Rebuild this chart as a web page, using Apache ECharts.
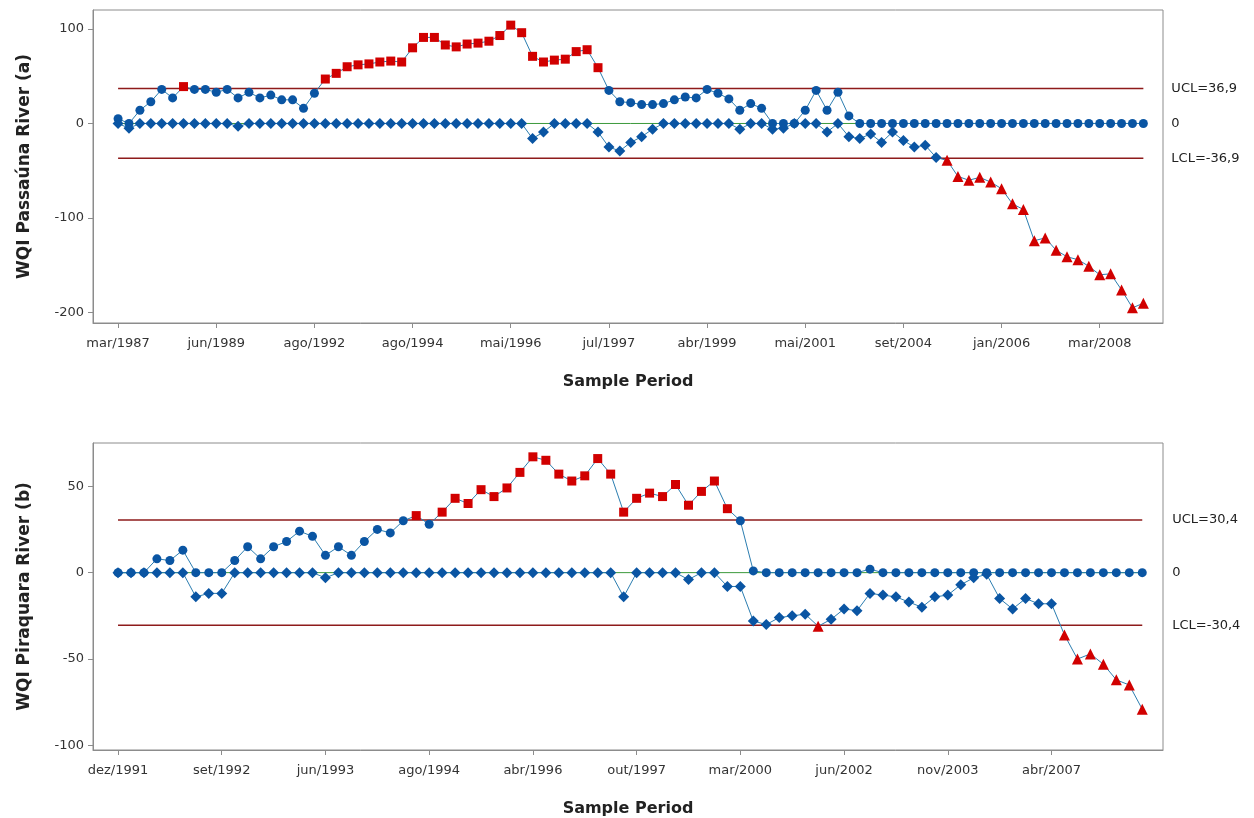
<!DOCTYPE html>
<html>
<head>
<meta charset="utf-8">
<script src="https://cdn.jsdelivr.net/npm/echarts@6/dist/echarts.min.js"></script>
<style>
  html, body { margin: 0; padding: 0; background: #ffffff; }
  #chart { width: 1254px; height: 818px; }
</style>
</head>
<body>
<div id="chart"></div>
<script>
// ---- Passaúna River (a): CUSUM of WQI ----
const ticksA = ['mar/1987', 'jun/1989', 'ago/1992', 'ago/1994', 'mai/1996', 'jul/1997',
                'abr/1999', 'mai/2001', 'set/2004', 'jan/2006', 'mar/2008'];
const stepA = 9;            // samples between labelled dates
const limitA = 36.9;        // UCL / LCL magnitude
const upperA = [5, 0, 14, 23, 36, 27, 39, 36, 36, 33, 36, 27, 33, 27, 30, 25, 25, 16, 32,
                47, 53, 60, 62, 63, 65, 66, 65,
                80, 91, 91, 83, 81, 84, 85, 87, 93, 104, 96, 71, 65, 67, 68, 76, 78, 59, 35,
                23, 22, 20, 20, 21, 25, 28, 27, 36, 32, 26, 14, 21,
                16, 0, 0, 0, 14, 35, 14, 33, 8,
                0, 0, 0, 0, 0, 0, 0, 0, 0, 0, 0, 0, 0, 0, 0, 0, 0, 0, 0, 0, 0, 0, 0, 0, 0, 0, 0];
const lowerA = [0, -5, 0, 0, 0, 0, 0, 0, 0, 0, 0, -3, 0, 0, 0, 0, 0, 0, 0, 0, 0, 0, 0, 0, 0, 0,
                0, 0, 0, 0, 0, 0, 0, 0, 0, 0, 0, 0,
                -16, -9, 0, 0, 0, 0, -9, -25, -29, -20, -14, -6,
                0, 0, 0, 0, 0, 0, 0,
                -6, 0, 0, -6, -5, 0, 0, 0, -9, 0, -14, -16, -11, -20, -9, -18, -25, -23, -36,
                -39, -56, -60, -57, -62, -69, -85, -91, -124, -121, -134, -141, -144, -151,
                -160, -159, -176, -195, -190];

// ---- Piraquara River (b): CUSUM of WQI ----
const ticksB = ['dez/1991', 'set/1992', 'jun/1993', 'ago/1994', 'abr/1996', 'out/1997',
                'mar/2000', 'jun/2002', 'nov/2003', 'abr/2007'];
const stepB = 8;
const limitB = 30.4;
const upperB = [0, 0, 0, 8, 7, 13, 0, 0, 0, 7, 15, 8, 15, 18, 24, 21, 10, 15, 10, 18, 25, 23,
                30, 33, 28, 35, 43, 40, 48, 44, 49, 58, 67, 65, 57, 53, 56, 66, 57, 35, 43, 46,
                44, 51, 39, 47, 53, 37, 30,
                1, 0, 0, 0, 0, 0, 0, 0, 0, 2,
                0, 0, 0, 0, 0, 0, 0, 0, 0, 0, 0, 0, 0, 0, 0, 0, 0, 0, 0, 0, 0];
const lowerB = [0, 0, 0, 0, 0, 0, -14, -12, -12, 0, 0, 0, 0, 0, 0, 0, -3,
                0, 0, 0, 0, 0, 0, 0, 0, 0, 0, 0, 0, 0, 0, 0, 0, 0, 0, 0, 0, 0, 0,
                -14, 0, 0, 0, 0, -4, 0, 0, -8, -8,
                -28, -30, -26, -25, -24, -31, -27, -21, -22, -12, -13, -14, -17, -20, -14,
                -13, -7, -3, -1, -15, -21, -15, -18, -18, -36, -50, -47, -53, -62, -65, -79];

const FONT = 'DejaVu Sans';
const BLUE = '#0a55a3';
const RED = '#d10000';
const LIMIT = '#8e1b1b';
const CENTER = '#3c9a3c';
const LINK = '#2b7db0';
const FRAME = '#8c8c8c';
const TEXT = '#333333';

function fmtNum(v) { return String(v).replace('.', ','); }

// Upper CUSUM: circles, red squares beyond UCL. Lower CUSUM: diamonds, red triangles beyond LCL.
function cusumSeries(values, kind, limit, idx) {
  const data = values.map(function (v, i) {
    const out = kind === 'upper' ? v > limit : v < -limit;
    let symbol, size;
    if (kind === 'upper') { symbol = out ? 'rect' : 'circle'; size = 9; }
    else { symbol = out ? 'triangle' : 'diamond'; size = 11; }
    return { value: [i, v], symbol: symbol, symbolSize: size, itemStyle: { color: out ? RED : BLUE } };
  });
  return {
    type: 'line', xAxisIndex: idx, yAxisIndex: idx, data: data,
    showAllSymbol: true, lineStyle: { color: LINK, width: 1 },
    z: kind === 'upper' ? 4 : 5, silent: true
  };
}

function refLine(y, n, text, color, width, idx, dist) {
  return {
    type: 'line', xAxisIndex: idx, yAxisIndex: idx, data: [[0, y], [n - 1, y]],
    symbol: 'none', silent: true, z: 2,
    lineStyle: { color: color, width: width },
    endLabel: { show: true, formatter: text, distance: dist, color: '#222', fontFamily: FONT, fontSize: 13 }
  };
}

function xAxisDef(idx, ticks, step, min, max) {
  const pos = ticks.map(function (t, k) { return k * step; });
  return {
    gridIndex: idx, type: 'value', min: min, max: max,
    axisLine: { show: true, onZero: false, lineStyle: { color: FRAME } },
    axisTick: { show: true, length: 5, customValues: pos, lineStyle: { color: FRAME } },
    axisLabel: {
      customValues: pos, margin: 14, color: TEXT, fontFamily: FONT, fontSize: 13,
      formatter: function (v) { return ticks[Math.round(v / step)] || ''; }
    },
    splitLine: { show: false },
    name: 'Sample Period', nameLocation: 'middle', nameGap: 51,
    nameTextStyle: { color: '#222', fontFamily: FONT, fontSize: 16, fontWeight: 'bold' }
  };
}

function yAxisDef(idx, name, min, max, vals) {
  return {
    gridIndex: idx, type: 'value', min: min, max: max,
    axisLine: { show: true, onZero: false, lineStyle: { color: FRAME } },
    axisTick: { show: true, length: 5, customValues: vals, lineStyle: { color: FRAME } },
    axisLabel: { customValues: vals, margin: 9, color: TEXT, fontFamily: FONT, fontSize: 13 },
    splitLine: { show: false },
    name: name, nameLocation: 'middle', nameGap: 60, nameRotate: 90,
    nameTextStyle: { color: '#222', fontFamily: FONT, fontSize: 17, fontWeight: 'bold' }
  };
}

const nA = upperA.length, nB = upperB.length;

const option = {
  animation: false,
  backgroundColor: '#ffffff',
  grid: [
    { left: 93, right: 91, top: 10, height: 313, show: true, borderColor: FRAME, borderWidth: 1 },
    { left: 93, right: 91, top: 443, height: 307, show: true, borderColor: FRAME, borderWidth: 1 }
  ],
  xAxis: [
    xAxisDef(0, ticksA, stepA, -2.3, 95.8),
    xAxisDef(1, ticksB, stepB, -1.93, 80.6)
  ],
  yAxis: [
    yAxisDef(0, 'WQI Passaúna River (a)', -211, 120, [-200, -100, 0, 100]),
    yAxisDef(1, 'WQI Piraquara River (b)', -102.6, 75, [-100, -50, 0, 50])
  ],
  series: [
    refLine(limitA, nA, 'UCL=' + fmtNum(limitA), LIMIT, 1.5, 0, 28),
    refLine(-limitA, nA, 'LCL=-' + fmtNum(limitA), LIMIT, 1.5, 0, 28),
    refLine(0, nA, '0', CENTER, 1, 0, 28),
    cusumSeries(upperA, 'upper', limitA, 0),
    cusumSeries(lowerA, 'lower', limitA, 0),
    refLine(limitB, nB, 'UCL=' + fmtNum(limitB), LIMIT, 1.5, 1, 30),
    refLine(-limitB, nB, 'LCL=-' + fmtNum(limitB), LIMIT, 1.5, 1, 30),
    refLine(0, nB, '0', CENTER, 1, 1, 30),
    cusumSeries(upperB, 'upper', limitB, 1),
    cusumSeries(lowerB, 'lower', limitB, 1)
  ]
};

echarts.init(document.getElementById('chart'), null, { renderer: 'canvas' }).setOption(option);
</script>
</body>
</html>
